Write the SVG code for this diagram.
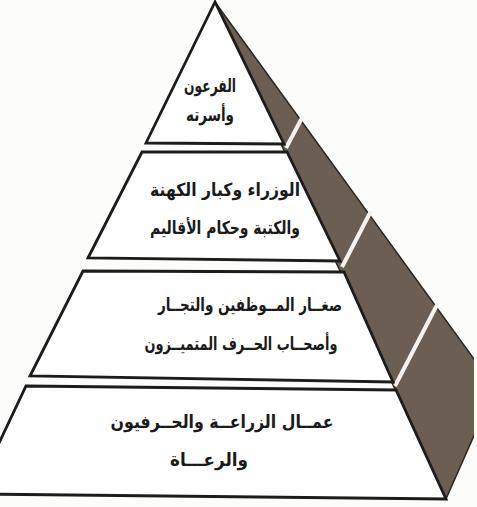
<svg xmlns="http://www.w3.org/2000/svg" width="477" height="507" viewBox="0 0 477 507">
  <style>
    .tier { fill: #ffffff; stroke: #1c1c1c; stroke-width: 2.8; stroke-linejoin: miter; }
    .side { fill: #6b5e53; stroke: #2a2622; stroke-width: 1.5; }
    .sep { stroke: #f4f2ee; stroke-width: 4; stroke-linecap: butt; }
    .lbl { font-family: "DejaVu Sans", "Noto Sans", sans-serif; font-weight: bold; font-size: 18px; fill: #1a1a1a; text-anchor: middle; direction: rtl; }
  </style>
  <defs>
    <clipPath id="frame"><rect x="0" y="0" width="474" height="507"/></clipPath>
  </defs>
  <rect width="477" height="507" fill="#fcfcfb"/>
  <g id="side-face" clip-path="url(#frame)">
    <polygon class="side" points="215,2 446,499 495,388"/>
    <line class="sep" x1="286" y1="148" x2="303" y2="116"/>
    <line class="sep" x1="342" y1="267" x2="371" y2="211"/>
    <line class="sep" x1="395" y1="386" x2="438" y2="303"/>
  </g>
  <g id="tier1">
    <polygon class="tier" points="215,2 146,143 284,144"/>
    <text class="lbl" x="210" y="92" textLength="52" lengthAdjust="spacingAndGlyphs">الفرعون</text>
    <text class="lbl" x="210" y="121" textLength="48" lengthAdjust="spacingAndGlyphs">وأسرته</text>
  </g>
  <g id="tier2">
    <polygon class="tier" points="142,152 287,152 340,261 88,258"/>
    <text class="lbl" x="225" y="196" textLength="150" lengthAdjust="spacingAndGlyphs">الوزراء وكبار الكهنة</text>
    <text class="lbl" x="225" y="234" textLength="150" lengthAdjust="spacingAndGlyphs">والكتبة وحكام الأقاليم</text>
  </g>
  <g id="tier3">
    <polygon class="tier" points="83,271 344,272 393,382 30,376"/>
    <text class="lbl" x="250" y="311" textLength="184" lengthAdjust="spacingAndGlyphs">صغــار المــوظفين والتجــار</text>
    <text class="lbl" x="241" y="350" textLength="193" lengthAdjust="spacingAndGlyphs">وأصحــاب الحــرف المتميــزون</text>
  </g>
  <g id="tier4">
    <polygon class="tier" points="26,386 396,390 446,499 -25,494"/>
    <text class="lbl" x="222" y="428" textLength="223" lengthAdjust="spacingAndGlyphs">عمــال الزراعــة والحــرفيون</text>
    <text class="lbl" x="209" y="466" textLength="78" lengthAdjust="spacingAndGlyphs">والرعـــاة</text>
  </g>
  <g id="connectors"/>
</svg>
